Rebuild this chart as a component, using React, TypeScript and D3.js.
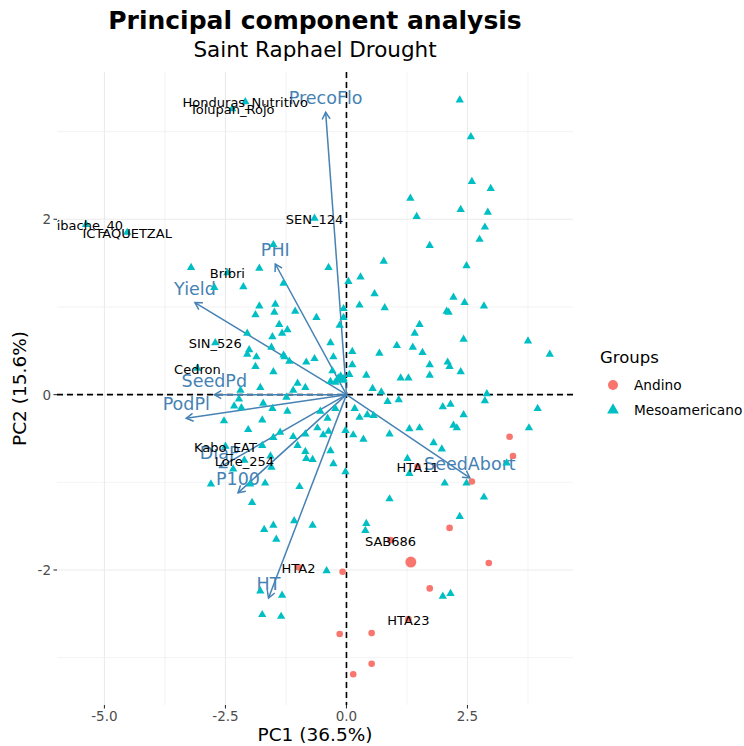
import React from "react";
import * as d3 from "d3";

// ---------- data (PC1, PC2 coordinates) ----------
const mesoamericano: [number, number][] = [
  [2.34,3.36],[2.57,2.94],[2.59,2.43],[2.98,2.35],[1.32,2.24],[2.36,2.11],[2.92,2.08],[1.45,2.03],[2.86,1.91],[2.75,1.77],
  [1.72,1.70],[0.77,1.52],[2.48,1.47],[0.29,1.34],[0.04,1.29],[0.58,1.15],[2.21,1.11],[2.44,1.05],[-1.51,1.71],[-1.80,1.44],
  [-0.37,1.45],[-1.30,1.27],[-3.21,1.45],[-2.13,1.23],[-2.73,1.22],
  [0.27,1.02],[2.84,1.01],[0.79,0.99],[2.07,0.95],[2.11,0.94],[-0.06,0.98],[-0.06,0.88],[1.51,0.80],[1.41,0.70],[2.42,0.63],
  [3.75,0.61],[1.04,0.56],[1.37,0.54],[1.57,0.48],[0.12,0.49],[0.68,0.47],[4.20,0.46],[2.09,0.37],[1.72,0.34],[2.13,0.32],
  [2.36,0.26],[0.12,0.34],[0.06,0.23],[0.41,0.22],[1.12,0.19],[1.28,0.19],[1.72,0.22],[0.54,0.07],[0.72,0.03],[2.90,0.01],
  [2.86,-0.07],[1.08,-0.06],[0.85,-0.08],[1.99,-0.14],[2.15,-0.11],[3.95,-0.16],[0.17,-0.16],[2.42,-0.23],[0.27,-0.26],[0.43,-0.23],
  [0.56,-0.24],[2.21,-0.35],[2.28,-0.38],[1.30,-0.39],[1.51,-0.38],[3.77,-0.38],[0.14,-0.46],[0.89,-0.45],[0.35,-0.51],[1.80,-0.55],
  [1.97,-0.62],[-0.02,-0.41],[1.26,-0.73],[3.31,-0.78],[1.30,-0.90],[-0.02,-0.88],[2.03,-1.01],[2.48,-1.01],[2.84,-1.17],[0.89,-1.19],
  [2.34,-1.39],[1.99,-2.30],[2.15,-2.27],
  [-1.80,1.01],[-1.47,1.03],[-1.88,0.91],[-1.49,0.94],[-1.06,0.95],[-0.62,0.88],[-1.39,0.80],[-1.22,0.74],[-1.33,0.70],[-2.05,0.70],
  [-0.14,0.79],[-0.33,0.59],[-1.53,0.66],[-2.01,0.51],[-2.05,0.46],[-1.86,0.43],[-1.28,0.43],[-1.18,0.38],[-0.83,0.37],[-0.66,0.41],
  [-0.27,0.43],[-1.88,0.32],[-1.51,0.26],[-0.29,0.27],[-0.33,0.15],[-0.17,0.19],[-0.06,0.18],[-1.78,0.08],[-1.01,0.13],[-0.85,0.08],
  [-1.10,0.05],[-2.19,0.05],[-2.22,-0.05],[-1.24,-0.03],[-2.32,-0.13],[-2.17,-0.15],[-1.72,-0.10],[-1.53,-0.16],[-1.22,-0.19],[-2.53,-0.30],
  [-1.74,-0.29],[-0.54,-0.19],[-0.39,-0.27],[-0.23,-0.16],[-0.60,-0.38],[-0.37,-0.42],[-0.48,-0.46],[-2.03,-0.40],[-1.51,-0.49],[-1.10,-0.48],
  [-0.85,-0.45],[-1.01,-0.58],[-0.85,-0.65],[-0.83,-0.73],[-0.70,-0.74],[-0.33,-0.64],[-0.27,-0.79],[-1.74,-0.58],[-1.57,-0.70],[-1.55,-0.83],
  [-2.80,-1.02],[-1.68,-1.01],[-1.99,-1.02],[-1.95,-1.23],[-2.34,-0.85],[-0.97,-1.05],[-1.55,0.54],[-1.30,0.45],[-0.23,0.14],[-1.37,-0.43],
  [-1.70,-1.54],[-1.51,-1.49],[-1.08,-1.44],[-0.70,-1.49],[-1.45,-1.65],[0.41,-1.47],[0.39,-1.55],[-0.41,-2.01],[-1.78,-2.24],[-1.33,-2.29],
  [-1.74,-2.51],[-1.35,-2.53],
];

const andino: [number, number][] = [
  [3.37,-0.48],[3.44,-0.70],[2.59,-0.99],[2.13,-1.52],[2.94,-1.92],[1.72,-2.21],[-0.08,-2.02],[-0.14,-2.73],[0.52,-2.72],[0.52,-3.07],[0.14,-3.19],
];

const labeledNames = ["Honduras_Nutritivo","Tolupan_Rojo","Tibache_40","ICTAQUETZAL","SEN_124","Bribri","SIN_526","Cedron","Kabo_EAT","Lore_254","HTA11","SAB686","HTA2","HTA23"];
const labeledGroups = ["M","M","M","M","M","M","M","M","M","M","A","A","A","A"];
const labeledX = [-2.09,-2.36,-5.38,-4.53,-0.66,-2.46,-2.71,-3.08,-2.50,-2.11,1.47,0.91,-0.99,1.28];
const labeledY = [3.34,3.26,1.94,1.85,2.01,1.39,0.59,0.30,-0.59,-0.75,-0.82,-1.66,-1.97,-2.56];

const groupNames = ["Andino","Mesoamericano"];
const groupMeanX = [1.33,-0.12];
const groupMeanY = [-1.91,0.18];

const varNames = ["PrecoFlo","PHI","Yield","SeedPd","PodPl","DiaP","P100","HT","SeedAbort"];
const varX = [-0.43,-1.47,-3.13,-2.73,-3.31,-2.62,-2.24,-1.61,2.55];
const varY = [3.22,1.49,1.05,0.0,-0.27,-0.83,-1.12,-2.32,-0.95];

const xTicks = [-5, -2.5, 0, 2.5];
const xMinor = [-3.75, -1.25, 1.25, 3.75];
const yTicks = [-2, 0, 2];
const yMinor = [-3, -1, 1, 3];

const title = "Principal component analysis";
const subtitle = "Saint Raphael Drought";
const xTitle = "PC1 (36.5%)";
const yTitle = "PC2 (15.6%)";

// ---------- styling ----------
const W = 744, H = 746;
const P = { left: 57, right: 573, top: 72, bottom: 705 };
const RED = "#F8766D";
const TEAL = "#00BFC4";
const STEEL = "#4682B4";
const FONT = "DejaVu Sans, sans-serif";

export default function App() {
  const x = d3.scaleLinear().domain([-5.98, 4.68]).range([P.left, P.right]);
  const y = d3.scaleLinear().domain([-3.54, 3.68]).range([P.bottom, P.top]);
  const tri = d3.symbol().type(d3.symbolTriangle).size(30)()!;
  const triBig = d3.symbol().type(d3.symbolTriangle).size(75)()!;
  const triLegend = d3.symbol().type(d3.symbolTriangle).size(60)()!;
  const x0 = x(0), y0 = y(0);
  const headLen = 8;

  return (
    <svg width={W} height={H} style={{ position: "absolute", left: 0, top: 0, background: "#fff" }} fontFamily={FONT}>
      <defs>
        <clipPath id="panel">
          <rect x={P.left} y={P.top} width={P.right - P.left} height={P.bottom - P.top} />
        </clipPath>
      </defs>
      {/* titles */}
      <text x={(P.left + P.right) / 2} y={29} textAnchor="middle" fontSize={25} fontWeight="bold" fill="#000">{title}</text>
      <text x={(P.left + P.right) / 2} y={57} textAnchor="middle" fontSize={21.5} fill="#000">{subtitle}</text>

      {/* grid */}
      <g>
        {xMinor.map((t) => <line key={"xm" + t} x1={x(t)} x2={x(t)} y1={P.top} y2={P.bottom} stroke="#EBEBEB" strokeWidth={0.6} />)}
        {yMinor.map((t) => <line key={"ym" + t} y1={y(t)} y2={y(t)} x1={P.left} x2={P.right} stroke="#EBEBEB" strokeWidth={0.6} />)}
        {xTicks.map((t) => <line key={"xg" + t} x1={x(t)} x2={x(t)} y1={P.top} y2={P.bottom} stroke="#EBEBEB" strokeWidth={1.1} />)}
        {yTicks.map((t) => <line key={"yg" + t} y1={y(t)} y2={y(t)} x1={P.left} x2={P.right} stroke="#EBEBEB" strokeWidth={1.1} />)}
      </g>

      {/* dashed zero lines */}
      <line x1={P.left} x2={P.right} y1={y0} y2={y0} stroke="#000" strokeWidth={1.6} strokeDasharray="6,4" />
      <line x1={x0} x2={x0} y1={P.top} y2={P.bottom} stroke="#000" strokeWidth={1.6} strokeDasharray="6,4" />

      <g clipPath="url(#panel)">
        {/* variable arrows */}
        {varNames.map((n, i) => {
          const tx = x(varX[i]), ty = y(varY[i]);
          const a = Math.atan2(ty - y0, tx - x0);
          const a1 = a + Math.PI - Math.PI / 6, a2 = a + Math.PI + Math.PI / 6;
          return (
            <g key={n} stroke={STEEL} strokeWidth={1.5} fill="none">
              <line x1={x0} y1={y0} x2={tx} y2={ty} />
              <polyline points={`${tx + headLen * Math.cos(a1)},${ty + headLen * Math.sin(a1)} ${tx},${ty} ${tx + headLen * Math.cos(a2)},${ty + headLen * Math.sin(a2)}`} />
            </g>
          );
        })}
        {varNames.map((n, i) => (
          <text key={"vl" + n} x={x(varX[i])} y={y(varY[i]) - 14} textAnchor="middle" dominantBaseline="central" fontSize={17.5} fill={STEEL}>{n}</text>
        ))}

        {/* individuals */}
        {mesoamericano.map((d, i) => (
          <path key={"m" + i} d={tri} transform={`translate(${x(d[0])},${y(d[1])})`} fill={TEAL} />
        ))}
        {andino.map((d, i) => (
          <circle key={"a" + i} cx={x(d[0])} cy={y(d[1])} r={3.3} fill={RED} />
        ))}
        {labeledNames.map((n, i) => labeledGroups[i] === "M" ? (
          <path key={"lp" + n} d={tri} transform={`translate(${x(labeledX[i])},${y(labeledY[i])})`} fill={TEAL} />
        ) : (
          <circle key={"lp" + n} cx={x(labeledX[i])} cy={y(labeledY[i])} r={3.3} fill={RED} />
        ))}
        {/* group means */}
        <circle cx={x(groupMeanX[0])} cy={y(groupMeanY[0])} r={5.5} fill={RED} />
        <path d={triBig} transform={`translate(${x(groupMeanX[1])},${y(groupMeanY[1])})`} fill={TEAL} />

        {labeledNames.map((n, i) => (
          <text key={"lt" + n} x={x(labeledX[i])} y={y(labeledY[i]) + 1} textAnchor="middle" dominantBaseline="central" fontSize={13} fill="#000">{n}</text>
        ))}
      </g>

      {/* axes */}
      {xTicks.map((t) => (
        <g key={"xt" + t}>
          <line x1={x(t)} x2={x(t)} y1={P.bottom} y2={P.bottom + 3.5} stroke="#333" strokeWidth={1.1} />
          <text x={x(t)} y={P.bottom + 11} textAnchor="middle" dominantBaseline="central" fontSize={13.5} fill="#4D4D4D">{t.toFixed(1)}</text>
        </g>
      ))}
      {yTicks.map((t) => (
        <g key={"yt" + t}>
          <line x1={P.left - 3.5} x2={P.left} y1={y(t)} y2={y(t)} stroke="#333" strokeWidth={1.1} />
          <text x={P.left - 6} y={y(t)} textAnchor="end" dominantBaseline="central" fontSize={13.5} fill="#4D4D4D">{String(t)}</text>
        </g>
      ))}
      <text x={(P.left + P.right) / 2} y={741} textAnchor="middle" fontSize={18.5} fill="#000">{xTitle}</text>
      <text transform={`translate(26,${(P.top + P.bottom) / 2}) rotate(-90)`} textAnchor="middle" fontSize={18.5} fill="#000">{yTitle}</text>

      {/* legend */}
      <text x={600} y={363} fontSize={16.5} fill="#000">Groups</text>
      <circle cx={613} cy={385} r={5} fill={RED} />
      <text x={634} y={385} dominantBaseline="central" fontSize={13.7} fill="#000">{groupNames[0]}</text>
      <path d={triLegend} transform="translate(613,410)" fill={TEAL} />
      <text x={634} y={410} dominantBaseline="central" fontSize={13.7} fill="#000">{groupNames[1]}</text>
    </svg>
  );
}
